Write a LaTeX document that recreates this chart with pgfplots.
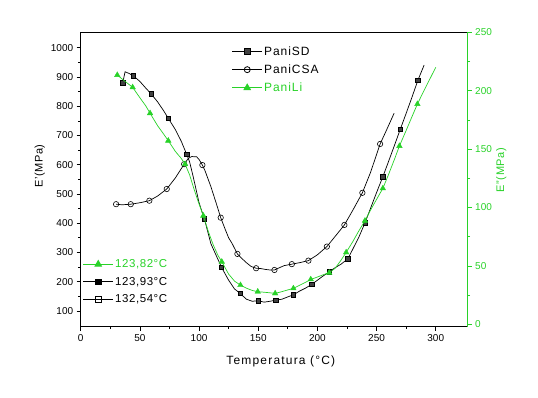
\documentclass[border=0pt]{standalone}
\usepackage{fontspec}
\setmainfont{Liberation Sans}
\usepackage{pgfplots}
\pgfplotsset{compat=1.18}
\definecolor{lg}{RGB}{40,210,40}
\newcommand{\lgfont}{\fontsize{12}{14}\selectfont\addfontfeature{LetterSpace=8}}
\newcommand{\lgfontb}{\fontsize{11.5}{13.5}\selectfont\addfontfeature{LetterSpace=5}}
\begin{document}
\begin{tikzpicture}[x=1pt,y=1pt]
\path[use as bounding box] (0,0) rectangle (538,397);
\pgfplotsset{
  every axis/.append style={
    at={(80.7pt,70.3pt)}, anchor=south west,
    scale only axis, width=387pt, height=294.4pt,
    xmin=0, xmax=327,
    tick align=outside, major tick length=4pt, minor tick length=2.5pt,
    /pgf/number format/assume math mode=true,
    /pgf/number format/1000 sep={},
    tick label style={font=\fontsize{10}{11}\selectfont},
    axis line style={line width=0.8pt},
    every tick/.style={line width=0.7pt},
    legend image code/.code={\draw[mark repeat=2,mark phase=2,#1] plot coordinates {(0pt,0pt) (15pt,0pt) (30pt,0pt)};},
  },
}
\begin{axis}[
  ymin=46, ymax=1053,
  xtick={0,50,...,300}, ytick={100,200,...,1000},
  minor x tick num=1, minor y tick num=1,
  xtick pos=left, ytick pos=left,
  xlabel={Temperatura (°C)},
  ylabel={E'(MPa)},
  xlabel style={font=\fontsize{12}{14}\selectfont\addfontfeature{LetterSpace=10}, at={(axis description cs:0.517,0)}, anchor=center, yshift=-35pt},
  ylabel style={font=\fontsize{11}{13}\selectfont\addfontfeature{LetterSpace=5}, at={(axis description cs:-0.106,0.546)}, anchor=center},
  legend style={at={(axis description cs:0.39,0.958)}, anchor=north west, draw=none, fill=none, inner sep=0pt, row sep=5pt, nodes={inner sep=1.5pt}, font=\lgfont},
  legend cell align=left,
]
\addlegendimage{black, line width=0.8pt, mark=square*, mark size=2.8pt, mark options={fill=black!75, draw=black}}
\addlegendentry{PaniSD}
\addlegendimage{black, line width=0.8pt, mark=o, mark size=3pt, mark options={fill=white}}
\addlegendentry{PaniCSA}
\addlegendimage{lg, line width=0.8pt, mark=triangle*, mark size=3.8pt}
\addlegendentry{\textcolor{lg}{PaniLi}}
% PaniSD line
\addplot[black, line width=0.7pt, forget plot] coordinates {
(35.5,880) (37.5,918) (41,912) (44.5,904) (50,885) (55,862) (59.4,843) (65,815) (70,785) (74,759) (80,720) (85,680) (89.6,635) (92,610) (95,560) (100,470) (104.5,415) (110,330) (115,285) (119,249) (125,205) (130,175) (134.7,160) (140,140) (145,133) (150,135) (155,130) (160,133) (165,137) (170,140) (175,148) (179.7,155) (185,168) (190,178) (195.3,191) (200,205) (205,220) (210,234) (215,248) (220,260) (225.7,278) (230,312) (235,352) (240.3,402) (245,452) (250,505) (255.3,559) (260,610) (265,665) (270,721) (275,776) (280,832) (284.9,889) (290.2,941)
};
\addplot[only marks, mark=square*, mark size=2.2pt, mark options={fill=black!75, draw=black, line width=0.6pt}, forget plot] coordinates {
(35.5,880) (44.5,904) (59.4,843) (74,759) (89.6,635) (104.5,415) (119,249) (134.7,160) (150,135) (165,137) (179.7,155) (195.3,191) (210,234) (225.7,278) (240.3,402) (255.3,559) (270,721) (284.9,889)
};
% PaniCSA line
\addplot[black, line width=0.7pt, forget plot] coordinates {
(29.9,465) (35,463) (42.3,465) (50,470) (58,477) (65,493) (72.7,517) (80,555) (87.4,602) (91,622) (93.8,628) (98,627) (100,618) (102.8,599) (105,580) (110,525) (115,462) (118.3,419) (122,380) (125,350) (128,330) (132.4,295) (136,280) (140,265) (144,252) (148.2,246) (152,245) (156,242) (160,240) (163.7,240) (168,248) (172,255) (178.4,260) (185,265) (192.4,272) (200,292) (208,320) (215,355) (222.8,394) (230,445) (238,504) (245,575) (253,671) (258,715) (264.8,776)
};
\addplot[only marks, mark=o, mark size=2.7pt, mark options={fill=white, draw=black, line width=0.6pt}, forget plot] coordinates {
(29.9,465) (42.3,465) (58,477) (72.7,517) (87.4,602) (102.8,599) (118.3,419) (132.4,295) (148.2,246) (163.7,240) (178.4,260) (192.4,272) (208,320) (222.8,394) (238,504) (253,671)
};
\end{axis}
\begin{axis}[
  ymin=-2, ymax=250,
  ytick={0,50,...,250}, minor y tick num=1,
  axis x line=none, axis y line*=right,
  ytick pos=right,
  y axis line style={lg, line width=0.8pt},
  y tick style={lg}, yticklabel style={lg},
  ylabel={E''(MPa)},
  ylabel style={lg, font=\fontsize{11}{13}\selectfont\addfontfeature{LetterSpace=5}, at={(axis description cs:1.087,0.532)}, anchor=center, rotate=0},
  legend style={at={(axis description cs:0.005,0.234)}, anchor=north west, draw=none, fill=none, inner sep=0pt, row sep=5pt, nodes={inner sep=1.5pt}, font=\lgfontb},
  legend cell align=left,
]
\addplot[lg, line width=0.7pt, forget plot] coordinates {
(30.9,213.4) (35,210) (40,206) (43.9,202.9) (50,194) (55,187) (58.6,180.7) (65,170) (70,163) (74,157.2) (80,148) (85,142) (88.2,137.2) (92,128) (96,115) (100,103) (103.6,93) (108,79) (112,68) (116,59) (119.2,53.6) (125,43) (130,37) (135,33.6) (140,31) (145,29) (149.6,28) (155,27.5) (160,27) (164.3,26.5) (170,28) (175,29.5) (179.7,30.8) (185,33.5) (190,36) (194.4,38.5) (200,40.5) (205,42.5) (210,44.2) (215,48) (220,55) (224.3,61.6) (230,71) (235,80) (240.2,88.7) (245,98) (250,107) (255.3,116.4) (260,128) (265,141) (269.3,152.7) (275,166) (280,178) (284.5,188.6) (290,200) (295,210) (300,220)
};
\addplot[only marks, lg, mark=triangle*, mark size=3.2pt, forget plot] coordinates {
(30.9,213.4) (43.9,202.9) (58.6,180.7) (74,157.2) (88.2,137.2) (103.6,93) (119.2,53.6) (135,33.6) (149.6,28) (164.3,26.5) (179.7,30.8) (194.4,38.5) (210,44.2) (224.3,61.6) (240.2,88.7) (255.3,116.4) (269.3,152.7) (284.5,188.6)
};
\addlegendimage{lg, line width=0.8pt, mark=triangle*, mark size=3.8pt}
\addlegendentry{\textcolor{lg}{123,82°C}}
\addlegendimage{black, line width=0.8pt, mark=square*, mark size=2.8pt, mark options={fill=black}}
\addlegendentry{123,93°C}
\addlegendimage{black, line width=0.8pt, mark=square, mark size=2.8pt, mark options={fill=white}}
\addlegendentry{132,54°C}
\end{axis}
\end{tikzpicture}
\end{document}
